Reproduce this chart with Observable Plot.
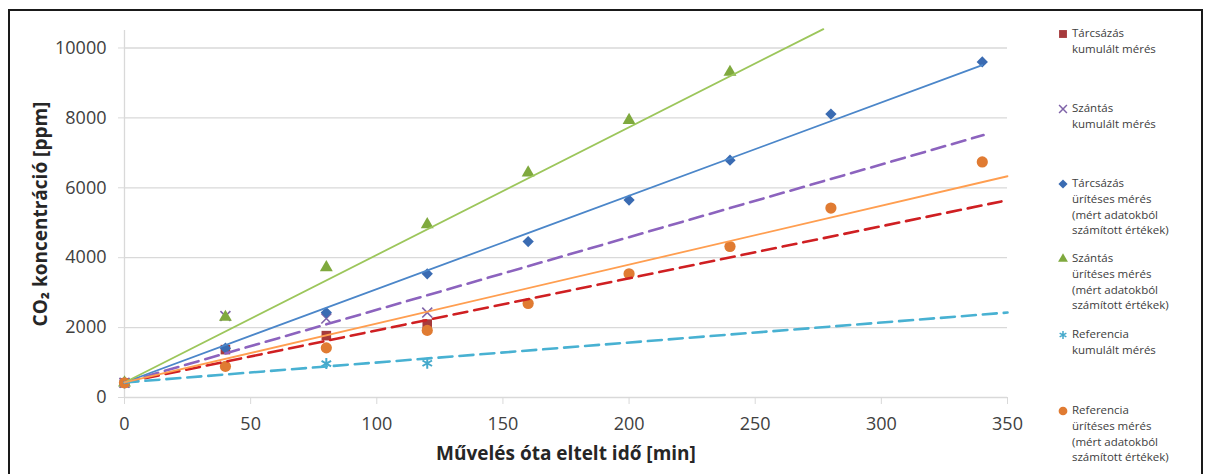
<!DOCTYPE html>
<html><head><meta charset="utf-8">
<script src="https://cdn.jsdelivr.net/npm/d3@7"></script>
<script src="https://cdn.jsdelivr.net/npm/@observablehq/plot@0.6"></script>
<style>
body{margin:0;background:#fff;}
#wrap{position:relative;width:1208px;height:474px;overflow:hidden;font-family:"Open Sans",sans-serif;background:#fff;}
#frame{position:absolute;left:8px;top:9px;width:1195px;height:520px;border:2.5px solid #1a1a1a;box-sizing:border-box;pointer-events:none;}
#chart{position:absolute;left:0;top:0;}
.item{position:absolute;left:1056px;font-size:11.5px;line-height:15.8px;color:#404040;}
.item svg{position:absolute;left:0;top:2px;}
.item .txt{position:absolute;left:16px;top:0;white-space:nowrap;}
</style></head>
<body><div id="wrap"><div id="chart"></div><div id="frame"></div></div>
<script>
// ---- data ----
const tarcsazasKumT = [0, 40, 80, 120];
const tarcsazasKum  = [420, 1370, 1770, 2100];
const szantasKumT   = [0, 40, 80, 120];
const szantasKum    = [420, 2330, 2260, 2430];
const tarcsazasUritT = [0, 40, 80, 120, 160, 200, 240, 280, 340];
const tarcsazasUrit  = [420, 1410, 2430, 3540, 4460, 5650, 6790, 8110, 9600];
const szantasUritT  = [0, 40, 80, 120, 160, 200, 240];
const szantasUrit   = [420, 2300, 3720, 4950, 6430, 7930, 9310];
const referenciaKumT = [0, 80, 120];
const referenciaKum  = [420, 970, 980];
const referenciaUritT = [0, 40, 80, 120, 160, 200, 240, 280, 340];
const referenciaUrit  = [420, 890, 1420, 1920, 2690, 3540, 4320, 5420, 6740];

// trend lines (linear, Excel style): start value at t=0, end point
const trendStartV = [430, 430, 430, 430, 430, 430];
const trendEndT   = [347.6, 340.5, 340, 277, 350, 350];
const trendEndV   = [5610, 7510, 9510, 10540, 2430, 6330];

const xTicks = [0, 50, 100, 150, 200, 250, 300, 350];
const yTicks = [0, 2000, 4000, 6000, 8000, 10000];
const xLabel = "Művelés óta eltelt idő [min]";
const yLabel = "CO₂ koncentráció [ppm]";
const legendLabels = [
  ["Tárcsázás", "kumulált mérés"],
  ["Szántás", "kumulált mérés"],
  ["Tárcsázás", "ürítéses mérés", "(mért adatokból", "számított értékek)"],
  ["Szántás", "ürítéses mérés", "(mért adatokból", "számított értékek)"],
  ["Referencia", "kumulált mérés"],
  ["Referencia", "ürítéses mérés", "(mért adatokból", "számított értékek)"]
];

// ---- styling ----
const seriesT = [tarcsazasKumT, szantasKumT, tarcsazasUritT, szantasUritT, referenciaKumT, referenciaUritT];
const seriesV = [tarcsazasKum, szantasKum, tarcsazasUrit, szantasUrit, referenciaKum, referenciaUrit];
const styles = [
  {symbol: "square", fill: "#A63A3C", r: 5.4, line: "#CF1F22", dash: "14,7", sw: 2.6},
  {symbol: "times", stroke: "#7F63A8", r: 4.6, line: "#8C63BE", dash: "14,7", sw: 2.6, msw: 1.6},
  {symbol: "square", rotate: 45, fill: "#3A6BB2", r: 4.5, line: "#4B86C9", sw: 1.8},
  {symbol: "triangle", fill: "#7FA93E", r: 4.8, line: "#9CC65B", sw: 1.8},
  {symbol: "asterisk", stroke: "#45A9CB", r: 5.2, line: "#48B1D2", dash: "14,7", sw: 2.6, msw: 2},
  {symbol: "circle", fill: "#E07B32", r: 5.6, line: "#FF9E50", sw: 1.8}
];

const points = seriesT.map((ts, i) => ts.map((t, j) => ({t, v: seriesV[i][j]})));
const trends = trendEndT.map((te, i) => [{t: 0, v: trendStartV[i]}, {t: te, v: trendEndV[i]}]);

const dotMarks = points.map((d, i) => {
  const s = styles[i];
  const o = {x: "t", y: "v", symbol: s.symbol, r: s.r};
  if (s.fill) o.fill = s.fill; else { o.stroke = s.stroke; o.strokeWidth = s.msw; o.fill = "none"; }
  if (s.rotate) o.rotate = s.rotate;
  return Plot.dot(d, o);
});
const lineMarks = trends.map((d, i) => {
  const s = styles[i];
  return Plot.line(d, {x: "t", y: "v", stroke: s.line, strokeWidth: s.sw, strokeDasharray: s.dash || null});
});

const plot = Plot.plot({
  width: 1208, height: 474,
  marginLeft: 124, marginRight: 201, marginTop: 30, marginBottom: 77,
  style: {fontFamily: "'Open Sans', sans-serif", fontSize: "18px", color: "#404040", background: "transparent"},
  x: {domain: [0, 350]},
  y: {domain: [0, 10500]},
  marks: [
    Plot.gridY(yTicks, {stroke: "#d9d9d9", strokeOpacity: 1, strokeWidth: 1.3}),
    Plot.ruleX([0], {y1: 0, y2: 10500, stroke: "#d9d9d9", strokeWidth: 1.3}),
    Plot.axisY({ticks: yTicks, tickSize: 6, tickPadding: 12, stroke: "#d9d9d9", fill: "#404040", fontSize: 18, tickFormat: d => String(d), label: null}),
    Plot.axisX({ticks: xTicks, tickSize: 7, tickPadding: 13, stroke: "#d9d9d9", fill: "#404040", fontSize: 18, tickFormat: d => String(d), label: null}),
    ...dotMarks,
    ...lineMarks,
    Plot.text([xLabel], {frameAnchor: "bottom", dy: 56, fontWeight: "bold", fontSize: 19, fill: "#262626", lineAnchor: "middle", textAnchor: "middle"}),
    Plot.text([yLabel], {frameAnchor: "left", dx: -84, rotate: -90, fontWeight: "bold", fontSize: 19, fill: "#262626", lineAnchor: "middle", textAnchor: "middle"})
  ]
});
document.getElementById("chart").appendChild(plot);

// ---- legend ----
const legendY = [33, 108, 183, 258, 334, 410];
const wrap = document.getElementById("wrap");
legendLabels.forEach((lines, i) => {
  const s = styles[i];
  const div = document.createElement("div");
  div.className = "item";
  div.style.top = (legendY[i] - 8) + "px";
  const svg = d3.create("svg").attr("width", 14).attr("height", 14);
  const sym = {square: d3.symbolSquare, times: d3.symbolTimes, triangle: d3.symbolTriangle, asterisk: d3.symbolAsterisk, circle: d3.symbolCircle}[s.symbol];
  const size = s.symbol === "circle" ? 60 : s.symbol === "square" && !s.rotate ? 62 : 42;
  const p = svg.append("path").attr("d", d3.symbol(sym, size)()).attr("transform", `translate(7,7) rotate(${s.rotate || 0})`);
  if (s.fill) p.attr("fill", s.fill); else p.attr("fill", "none").attr("stroke", s.stroke).attr("stroke-width", 1.5);
  div.appendChild(svg.node());
  const t = document.createElement("div");
  t.className = "txt";
  t.innerHTML = lines.join("<br>");
  div.appendChild(t);
  wrap.appendChild(div);
});
</script>
</body></html>
